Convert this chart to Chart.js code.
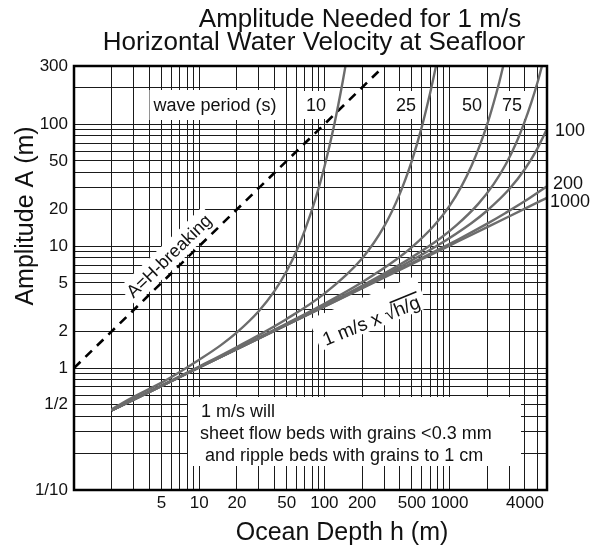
<!DOCTYPE html>
<html>
<head>
<meta charset="utf-8">
<script src="https://cdn.jsdelivr.net/npm/chart.js@4.4.1/dist/chart.umd.min.js"></script>
<style>
  body { margin: 0; background: #fff; }
</style>
</head>
<body>
<canvas id="ampChart" width="602" height="548"></canvas>
<script>
// amplitude (m) at the listed ocean depths (m)
const depthT10 = [2, 3, 5, 7, 10, 15, 20, 30, 40, 50, 60, 70, 85, 100, 120, 140, 150];
const ampT10 = [0.46, 0.58, 0.76, 0.93, 1.17, 1.55, 1.96, 2.94, 4.29, 6.25, 9.15, 13.6, 24.5, 44.6, 99.5, 223, 333];

const depthT25 = [2, 5, 10, 20, 50, 100, 200, 300, 400, 500, 600, 700, 750, 800];
const ampT25 = [0.45, 0.72, 1.03, 1.49, 2.53, 4.08, 7.93, 14.5, 26.8, 50.2, 95, 181, 249, 344];

const depthT50 = [2, 5, 10, 25, 50, 100, 200, 375, 500, 750, 1000, 1250, 1500, 1750, 2000, 2250, 2500, 2750];
const ampT50 = [0.45, 0.72, 1.02, 1.62, 2.32, 3.37, 5.06, 7.76, 9.81, 14.7, 21.4, 31.2, 45.8, 67.7, 100, 150, 223, 334];

const depthT75 = [2, 10, 56, 113, 225, 450, 844, 1125, 1688, 2250, 2813, 3375, 3938, 4500, 5063, 5625];
const ampT75 = [0.45, 1.01, 2.43, 3.48, 5.06, 7.59, 11.6, 14.7, 22.1, 32.2, 46.9, 68.7, 102, 151, 224, 335];

const depthT100 = [2, 10, 100, 200, 400, 800, 1500, 2000, 3000, 4000, 5000, 6000];
const ampT100 = [0.45, 1.01, 3.24, 4.64, 6.74, 10.1, 15.5, 19.6, 29.4, 42.9, 62.5, 91.5];

const depthT200 = [2, 10, 100, 400, 800, 1200, 2000, 2800, 4000, 6000];
const ampT200 = [0.45, 1.01, 3.2, 6.47, 9.28, 11.5, 15.3, 18.7, 23.4, 31.0];

const depthT1000 = [2, 10, 100, 1000, 2000, 4000, 6000];
const ampT1000 = [0.45, 1.01, 3.19, 10.1, 14.3, 20.3, 24.9];

// A = H breaking limit
const breakingDepth = [1, 300];
const breakingAmp = [1, 300];

const xTickValues = [5, 10, 20, 50, 100, 200, 500, 1000, 4000];
const xTickLabels = ['5', '10', '20', '50', '100', '200', '500', '1000', '4000'];
const yTickValues = [0.1, 0.5, 1, 2, 5, 10, 20, 50, 100, 300];
const yTickLabels = ['1/10', '1/2', '1', '2', '5', '10', '20', '50', '100', '300'];

const FONT = "'Liberation Sans', Arial, Helvetica, sans-serif";
const CURVE = '#6c6c6c';

function pts(xs, ys) {
    return xs.map((x, i) => ({ x: x, y: ys[i] }));
}

// grid at every 1..9 multiple inside the range
function logGrid(min, max) {
    const vals = [];
    for (let p = Math.floor(Math.log10(min)); p <= Math.ceil(Math.log10(max)); p++) {
        for (let m = 1; m <= 9; m++) {
            const v = m * Math.pow(10, p);
            if (v >= min * 0.999 && v <= max * 1.001) vals.push(v);
        }
    }
    return vals;
}

function labelFor(values, labels, v) {
    const i = values.findIndex(t => Math.abs(t - v) / t < 1e-6);
    return i >= 0 ? labels[i] : '';
}

function curve(label, xs, ys) {
    return {
        label: label,
        data: pts(xs, ys),
        showLine: true,
        borderColor: CURVE,
        borderWidth: 2.4,
        pointRadius: 0,
        cubicInterpolationMode: 'monotone',
        fill: false
    };
}

function boxedText(ctx, text, x, y, angle, padX, padY, size) {
    ctx.save();
    ctx.translate(x, y);
    ctx.rotate(angle);
    ctx.font = size + 'px ' + FONT;
    ctx.textAlign = 'center';
    ctx.textBaseline = 'middle';
    const w = ctx.measureText(text).width;
    ctx.fillStyle = '#fff';
    ctx.fillRect(-w / 2 - padX, -size / 2 - padY, w + 2 * padX, size + 2 * padY);
    ctx.fillStyle = '#111';
    ctx.fillText(text, 0, 1);
    ctx.restore();
}

const overlayText = {
    id: 'overlayText',
    beforeDatasetsDraw(chart) {
        const ctx = chart.ctx;
        const xs = chart.scales.x, ys = chart.scales.y;

        // note box at the bottom
        ctx.save();
        ctx.fillStyle = '#fff';
        ctx.fillRect(188, 397, 333, 69);
        ctx.fillStyle = '#111';
        ctx.font = '18px ' + FONT;
        ctx.textBaseline = 'middle';
        ctx.textAlign = 'left';
        ctx.fillText('1 m/s will', 201, 412);
        ctx.fillText('sheet flow beds with grains <0.3 mm', 200, 434);
        ctx.fillText('and ripple beds with grains to 1 cm', 205, 456);
        ctx.restore();

        boxedText(ctx, 'wave period (s)', 215, 105, 0, 4, 6, 18);
        boxedText(ctx, '10', 316, 105, 0, 4, 5, 18);
        boxedText(ctx, '25', 406, 105, 0, 4, 5, 18);
        boxedText(ctx, '50', 472, 105, 0, 4, 5, 18);
        boxedText(ctx, '75', 512, 105, 0, 4, 5, 18);

        // label along the breaking line
        const ang = -Math.atan2(ys.getPixelForValue(1) - ys.getPixelForValue(10),
                                xs.getPixelForValue(10) - xs.getPixelForValue(1));
        boxedText(ctx, 'A=H-breaking', 169, 256, ang, 3, 3, 18);

        // 1 m/s x sqrt(h/g) label with radical
        const angS = ang / 2;
        ctx.save();
        ctx.translate(371, 320);
        ctx.rotate(angS);
        ctx.font = '19px ' + FONT;
        ctx.textBaseline = 'alphabetic';
        ctx.textAlign = 'left';
        const a = '1 m/s x ', r = '\u221A', b = 'h/g';
        const wa = ctx.measureText(a).width, wr = ctx.measureText(r).width, wb = ctx.measureText(b).width;
        const tot = wa + wr + wb;
        ctx.fillStyle = '#fff';
        ctx.fillRect(-tot / 2 - 6, -24, tot + 12, 34);
        ctx.fillStyle = '#111';
        ctx.fillText(a, -tot / 2, 7);
        ctx.fillText(r, -tot / 2 + wa, 7);
        ctx.fillText(b, -tot / 2 + wa + wr, 7);
        ctx.strokeStyle = '#111';
        ctx.lineWidth = 1.6;
        ctx.beginPath();
        ctx.moveTo(-tot / 2 + wa + wr - 1.5, -9);
        ctx.lineTo(tot / 2 + 1, -9);
        ctx.stroke();
        ctx.restore();
    },
    afterDatasetsDraw(chart) {
        const ctx = chart.ctx;
        const ca = chart.chartArea;
        ctx.save();
        ctx.strokeStyle = '#000';
        ctx.lineWidth = 2.5;
        ctx.strokeRect(ca.left, ca.top, ca.right - ca.left, ca.bottom - ca.top);

        ctx.fillStyle = '#111';
        ctx.textAlign = 'center';
        ctx.textBaseline = 'alphabetic';
        ctx.font = '26px ' + FONT;
        ctx.fillText('Amplitude Needed for 1 m/s', 360, 27);
        ctx.fillText('Horizontal Water Velocity at Seafloor', 314, 50);

        ctx.font = '25px ' + FONT;
        ctx.fillText('Ocean Depth h (m)', 342, 540);
        ctx.save();
        ctx.translate(33, 216);
        ctx.rotate(-Math.PI / 2);
        ctx.fillText('Amplitude A (m)', 0, 0);
        ctx.restore();

        // end labels of the long-period curves
        ctx.font = '18px ' + FONT;
        ctx.textAlign = 'left';
        ctx.textBaseline = 'middle';
        ctx.fillText('100', 555, 131);
        ctx.fillText('200', 553, 184);
        ctx.fillText('1000', 550, 202);
        ctx.restore();
    }
};

const ctx = document.getElementById('ampChart').getContext('2d');
new Chart(ctx, {
    type: 'scatter',
    data: {
        datasets: [
            curve('10 s', depthT10, ampT10),
            curve('25 s', depthT25, ampT25),
            curve('50 s', depthT50, ampT50),
            curve('75 s', depthT75, ampT75),
            curve('100 s', depthT100, ampT100),
            curve('200 s', depthT200, ampT200),
            curve('1000 s', depthT1000, ampT1000),
            {
                label: 'A=H breaking',
                data: pts(breakingDepth, breakingAmp),
                showLine: true,
                borderColor: '#000',
                borderWidth: 2.6,
                borderDash: [9, 7],
                pointRadius: 0,
                fill: false
            }
        ]
    },
    options: {
        responsive: false,
        animation: false,
        devicePixelRatio: 1,
        layout: { padding: { top: 66, right: 55, left: 0, bottom: 0 } },
        plugins: {
            legend: { display: false },
            tooltip: { enabled: false }
        },
        scales: {
            x: {
                type: 'logarithmic',
                min: 1,
                max: 6000,
                border: { display: false },
                grid: { color: '#1a1a1a', lineWidth: 1, drawTicks: false },
                afterBuildTicks: s => { s.ticks = logGrid(1, 6000).map(v => ({ value: v })); },
                afterFit: s => { s.height = 58; },
                ticks: {
                    autoSkip: false,
                    maxRotation: 0,
                    padding: 3,
                    color: '#111',
                    font: { family: FONT, size: 17 },
                    callback: v => labelFor(xTickValues, xTickLabels, v)
                }
            },
            y: {
                type: 'logarithmic',
                min: 0.1,
                max: 300,
                border: { display: false },
                grid: { color: '#1a1a1a', lineWidth: 1, drawTicks: false },
                afterBuildTicks: s => { s.ticks = logGrid(0.1, 300).map(v => ({ value: v })); },
                afterFit: s => { s.width = 74; },
                ticks: {
                    autoSkip: false,
                    padding: 6,
                    color: '#111',
                    font: { family: FONT, size: 17 },
                    callback: v => labelFor(yTickValues, yTickLabels, v)
                }
            }
        }
    },
    plugins: [overlayText]
});
</script>
</body>
</html>
